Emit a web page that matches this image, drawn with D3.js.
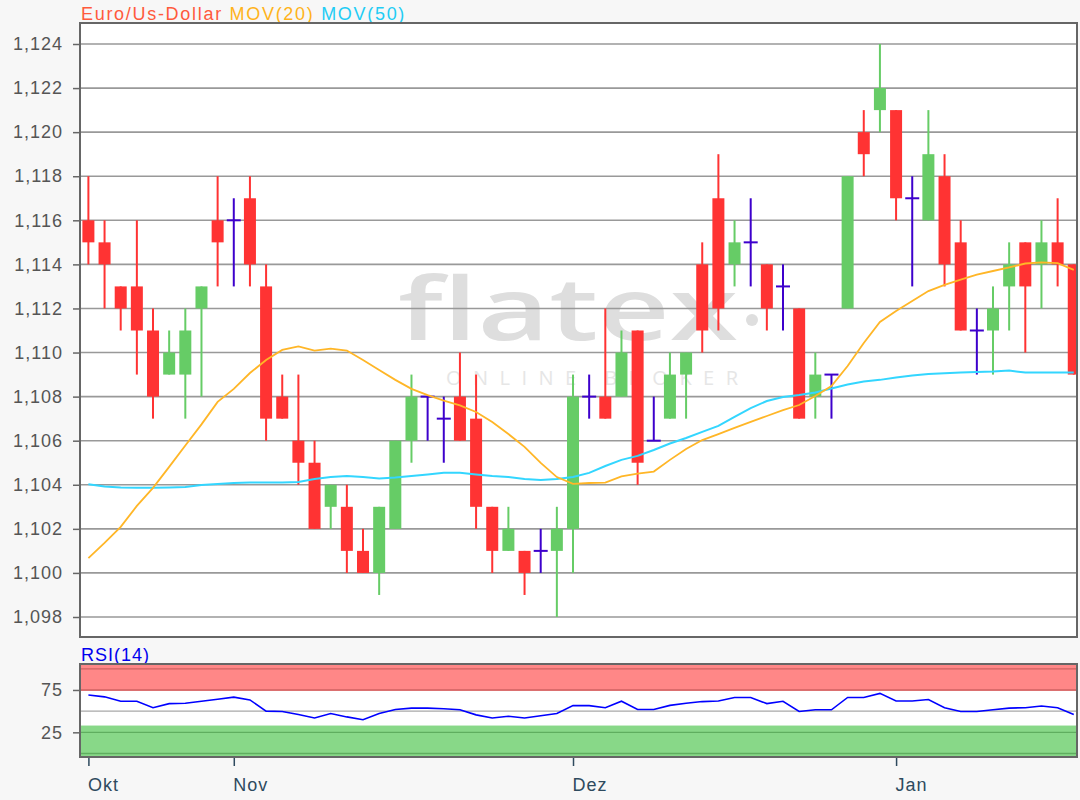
<!DOCTYPE html>
<html><head><meta charset="utf-8">
<script src="https://cdn.jsdelivr.net/npm/d3@7"></script>
<style>body{margin:0;background:#f7f7f7}svg{display:block}</style>
</head><body>
<svg id="c" width="1080" height="800"></svg>
<script>
// ---- data ----
const opens  = [1.116,1.115,1.113,1.113,1.111,1.109,1.109,1.112,1.116,1.116,1.117,1.113,1.108,1.106,1.105,1.103,1.103,1.101,1.100,1.102,1.106,1.108,1.107,1.108,1.107,1.103,1.101,1.101,1.101,1.101,1.102,1.108,1.108,1.108,1.111,1.106,1.107,1.109,1.114,1.117,1.114,1.115,1.114,1.113,1.112,1.108,1.109,1.112,1.120,1.121,1.121,1.117,1.116,1.118,1.115,1.111,1.111,1.113,1.115,1.114,1.115,1.114];
const highs  = [1.118,1.116,1.113,1.116,1.112,1.111,1.112,1.113,1.118,1.117,1.118,1.114,1.109,1.109,1.106,1.104,1.104,1.102,1.103,1.106,1.109,1.108,1.108,1.110,1.109,1.103,1.103,1.101,1.102,1.103,1.109,1.109,1.112,1.111,1.111,1.108,1.110,1.110,1.115,1.119,1.116,1.117,1.114,1.114,1.112,1.110,1.109,1.118,1.121,1.124,1.121,1.118,1.121,1.119,1.116,1.112,1.113,1.115,1.115,1.116,1.117,1.114];
const lows   = [1.114,1.112,1.111,1.109,1.107,1.109,1.107,1.108,1.113,1.113,1.113,1.106,1.107,1.104,1.102,1.102,1.100,1.100,1.099,1.102,1.105,1.106,1.105,1.106,1.102,1.100,1.101,1.099,1.100,1.098,1.100,1.107,1.107,1.108,1.104,1.106,1.107,1.107,1.110,1.111,1.113,1.113,1.111,1.111,1.107,1.107,1.107,1.112,1.118,1.120,1.116,1.113,1.116,1.113,1.111,1.109,1.109,1.111,1.110,1.112,1.113,1.109];
const closes = [1.115,1.114,1.112,1.111,1.108,1.110,1.111,1.113,1.115,1.116,1.114,1.107,1.107,1.105,1.102,1.104,1.101,1.100,1.103,1.106,1.108,1.108,1.107,1.106,1.103,1.101,1.102,1.100,1.101,1.102,1.108,1.108,1.107,1.110,1.105,1.106,1.109,1.110,1.111,1.112,1.115,1.115,1.112,1.113,1.107,1.109,1.109,1.118,1.119,1.122,1.117,1.117,1.119,1.114,1.111,1.111,1.112,1.114,1.113,1.115,1.114,1.109];
const mov20 = [1.10067,1.10136,1.10209,1.10304,1.10386,1.10481,1.10578,1.10674,1.10776,1.10835,1.10907,1.10966,1.11012,1.11028,1.11009,1.11018,1.11009,1.10966,1.10921,1.10876,1.10835,1.10807,1.10782,1.10760,1.10730,1.10685,1.10630,1.10572,1.10499,1.10435,1.10404,1.10408,1.10410,1.10438,1.10451,1.10460,1.10513,1.10562,1.10603,1.10630,1.10658,1.10685,1.10712,1.10739,1.10762,1.10803,1.10848,1.10939,1.11043,1.11139,1.11189,1.11234,1.11279,1.11307,1.11331,1.11354,1.11370,1.11386,1.11404,1.11409,1.11406,1.11375];
const mov50 = [1.10402,1.10392,1.10388,1.10386,1.10386,1.10388,1.10390,1.10399,1.10404,1.10408,1.10410,1.10410,1.10410,1.10413,1.10426,1.10435,1.10440,1.10435,1.10429,1.10433,1.10440,1.10447,1.10454,1.10454,1.10447,1.10440,1.10435,1.10426,1.10422,1.10426,1.10435,1.10454,1.10485,1.10513,1.10531,1.10558,1.10587,1.10612,1.10640,1.10667,1.10708,1.10748,1.10780,1.10798,1.10807,1.10819,1.10837,1.10855,1.10869,1.10876,1.10887,1.10896,1.10903,1.10906,1.10909,1.10912,1.10914,1.10918,1.10909,1.10909,1.10909,1.10909];
const rsi14 = [69,66.9,61.7,61.7,54,58.9,59.3,61.7,64.1,66.5,63.3,50,49.6,46,42,47.2,43.2,39.9,47.2,52,53.6,53.6,52.8,51.6,45.6,42,43.9,42,44.5,47.2,56.5,56.5,54.1,61.7,52,52,56.8,59.3,61.3,62,66.2,66.2,58.9,61.7,49.6,51.6,51.6,66.2,66.2,71,62,62,63.7,54.1,49.6,49.6,51.6,53.6,54.1,56,54.1,46];
const monthLabels = ["Okt","Nov","Dez","Jan"];
const monthIndex = [0,9,30,50];
const priceTicks = [1.098,1.100,1.102,1.104,1.106,1.108,1.110,1.112,1.114,1.116,1.118,1.120,1.122,1.124];
const rsiTicks = [75,25];
const rsiLines = [0,25,50,75,100];

// ---- layout ----
const L = 80, R = 1077, T = 23, B = 637, RT = 664, RB = 757;
const FONT = "'Liberation Sans', Arial, sans-serif";
const svg = d3.select("#c");
svg.append("rect").attr("width",1080).attr("height",800).attr("fill","#f7f7f7");

const n = opens.length;
const x = d3.scaleLinear().domain([-0.52, 61.2]).range([L, R]);
const y = d3.scaleLinear().domain([1.098, 1.124]).range([617, 44]);
const yr = d3.scaleLinear().domain([0, 100]).range([753.5, 668.8]);

const defs = svg.append("defs");
defs.append("clipPath").attr("id","mainclip").append("rect").attr("x",L).attr("y",T).attr("width",R-L).attr("height",B-T);
defs.append("clipPath").attr("id","rsiclip").append("rect").attr("x",L).attr("y",RT).attr("width",R-L).attr("height",RB-RT);

// title
const title = svg.append("text").attr("x",81).attr("y",20).attr("font-family",FONT).attr("font-size",18).attr("letter-spacing","1.7px");
title.append("tspan").attr("fill","#ff5a3c").text("Euro/Us-Dollar ");
title.append("tspan").attr("fill","#ffb31a").text("MOV(20) ");
title.append("tspan").attr("fill","#22ccf5").text("MOV(50)");

// main panel
svg.append("rect").attr("x",L).attr("y",T).attr("width",R-L).attr("height",B-T).attr("fill","#fff");

// watermark
svg.append("text").attr("x",398).attr("y",340).attr("font-family","'Open Sans', sans-serif").attr("font-weight",600).attr("font-size",86)
  .attr("fill","#dedede").attr("textLength",340).attr("lengthAdjust","spacingAndGlyphs").text("flatex");
svg.append("circle").attr("cx",752).attr("cy",320).attr("r",6).attr("fill","#dedede");
svg.append("text").attr("x",446).attr("y",385).attr("font-family","'Open Sans', sans-serif").attr("font-size",20)
  .attr("fill","#e6e6e6").attr("textLength",292).attr("lengthAdjust","spacing").text("ONLINE BROKER");

// gridlines
svg.append("g").selectAll("line").data(priceTicks).join("line")
  .attr("x1",L).attr("x2",R).attr("y1",d=>y(d)).attr("y2",d=>y(d))
  .attr("stroke","#999").attr("stroke-width",1.6);

// y axis
const yAxis = svg.append("g").attr("transform",`translate(${L},0)`)
  .call(d3.axisLeft(y).tickValues(priceTicks).tickSize(7).tickPadding(10)
  .tickFormat(d=>d.toFixed(3).replace(".",",")));
yAxis.select(".domain").remove();
yAxis.selectAll("line").attr("stroke","#666").attr("stroke-width",1.5);
yAxis.selectAll("text").attr("font-family",FONT).attr("font-size",18).attr("fill","#555").attr("letter-spacing","1px");

// candles
const data = d3.range(n).map(i=>({i,o:opens[i],h:highs[i],l:lows[i],c:closes[i]}));
const col = d => d.c > d.o ? "#66cc66" : (d.c < d.o ? "#ff3333" : "#3d00cc");
const cg = svg.append("g").attr("clip-path","url(#mainclip)");
const bw = 12;
cg.selectAll("line.wick").data(data).join("line").attr("class","wick")
  .attr("x1",d=>x(d.i)).attr("x2",d=>x(d.i)).attr("y1",d=>y(d.h)).attr("y2",d=>y(d.l))
  .attr("stroke",col).attr("stroke-width",2);
cg.selectAll("rect.body").data(data.filter(d=>d.o!==d.c)).join("rect").attr("class","body")
  .attr("x",d=>x(d.i)-bw/2).attr("width",bw)
  .attr("y",d=>y(Math.max(d.o,d.c))).attr("height",d=>Math.abs(y(d.o)-y(d.c)))
  .attr("fill",col);
cg.selectAll("line.doji").data(data.filter(d=>d.o===d.c)).join("line").attr("class","doji")
  .attr("x1",d=>x(d.i)-7).attr("x2",d=>x(d.i)+7).attr("y1",d=>y(d.o)).attr("y2",d=>y(d.o))
  .attr("stroke","#3d00cc").attr("stroke-width",2);

// moving averages
const ma = (arr) => d3.line().x((d,i)=>x(i)).y(d=>y(d))(arr);
cg.append("path").attr("d",ma(mov50)).attr("fill","none").attr("stroke","#33d6ff").attr("stroke-width",2);
cg.append("path").attr("d",ma(mov20)).attr("fill","none").attr("stroke","#ffb627").attr("stroke-width",1.8);

// main frame
svg.append("rect").attr("x",L).attr("y",T).attr("width",R-L).attr("height",B-T)
  .attr("fill","none").attr("stroke","#666").attr("stroke-width",2);

// RSI panel
svg.append("text").attr("x",81).attr("y",661).attr("font-family",FONT).attr("font-size",18)
  .attr("fill","#0000ee").attr("letter-spacing","1px").text("RSI(14)");
svg.append("rect").attr("x",L).attr("y",RT).attr("width",R-L).attr("height",RB-RT).attr("fill","#fff");
const rg = svg.append("g").attr("clip-path","url(#rsiclip)");
rg.append("rect").attr("x",L).attr("width",R-L).attr("y",yr(120)).attr("height",yr(74)-yr(120)).attr("fill","#ff8787");
rg.append("rect").attr("x",L).attr("width",R-L).attr("y",yr(33)).attr("height",yr(-20)-yr(33)).attr("fill","#88d888");
rg.selectAll("line.rl").data(rsiLines).join("line").attr("class","rl")
  .attr("x1",L).attr("x2",R).attr("y1",d=>yr(d)).attr("y2",d=>yr(d))
  .attr("stroke",d=>d>=75?"#cf6262":(d<=25?"#5fae5f":"#a8a8a8")).attr("stroke-width",1.3);
rg.append("path").attr("d",d3.line().x((d,i)=>x(i)).y(d=>yr(d))(rsi14))
  .attr("fill","none").attr("stroke","#0000ff").attr("stroke-width",1.6);
svg.append("rect").attr("x",L).attr("y",RT).attr("width",R-L).attr("height",RB-RT)
  .attr("fill","none").attr("stroke","#666").attr("stroke-width",2);

const rAxis = svg.append("g").attr("transform",`translate(${L},0)`)
  .call(d3.axisLeft(yr).tickValues(rsiTicks).tickSize(7).tickPadding(10));
rAxis.select(".domain").remove();
rAxis.selectAll("line").attr("stroke","#666").attr("stroke-width",1.5);
rAxis.selectAll("text").attr("font-family",FONT).attr("font-size",18).attr("fill","#555").attr("letter-spacing","1px");

// x axis
const xAxis = svg.append("g").attr("transform",`translate(0,${RB+1})`)
  .call(d3.axisBottom(x).tickValues(monthIndex).tickSize(8).tickPadding(12)
  .tickFormat((d,i)=>monthLabels[i]));
xAxis.select(".domain").remove();
xAxis.selectAll("line").attr("stroke","#2e4a5e").attr("stroke-width",1.5);
xAxis.selectAll("text").attr("font-family",FONT).attr("font-size",18).attr("fill","#2e4a5e")
  .attr("text-anchor","start").attr("dx","-1").attr("letter-spacing","1px");
</script>
</body></html>
